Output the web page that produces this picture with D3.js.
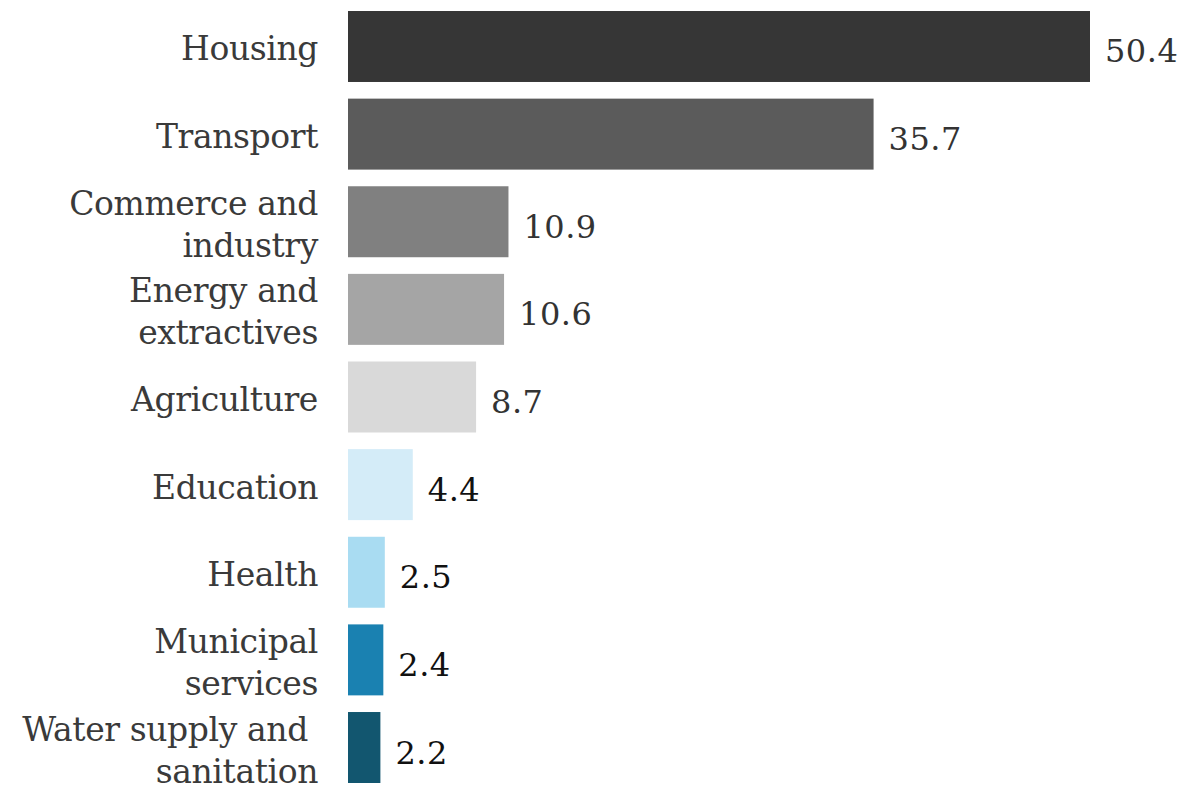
<!DOCTYPE html>
<html>
<head>
<meta charset="utf-8">
<script src="https://cdn.jsdelivr.net/npm/d3@7"></script>
<style>
  body { margin: 0; background: #fff; }
  text { font-family: "DejaVu Serif", "Liberation Serif", serif; }
</style>
</head>
<body>
<div id="chart"></div>
<script>
// sectors, top to bottom (multi-line labels split into lines)
const sectors = ["Housing", "Transport", "Commerce and industry", "Energy and extractives",
  "Agriculture", "Education", "Health", "Municipal services", "Water supply and sanitation"];
const sectorLines = [["Housing"], ["Transport"], ["Commerce and", "industry"], ["Energy and", "extractives"],
  ["Agriculture"], ["Education"], ["Health"], ["Municipal", "services"], ["Water supply and ", "sanitation"]];
const values = [50.4, 35.7, 10.9, 10.6, 8.7, 4.4, 2.5, 2.4, 2.2];

const barColors = ["#363636", "#5b5b5b", "#808080", "#a5a5a5", "#d9d9d9",
  "#d4ecf8", "#a9dcf2", "#1a81b1", "#12566f"];

const width = 1186, height = 790;
const margin = { left: 348, top: 11, bottom: 7 };

const svg = d3.select("#chart").append("svg")
  .attr("width", width)
  .attr("height", height);

const x = d3.scaleLinear().domain([0, 50.4]).range([margin.left, 1090]);
const y = d3.scaleBand().domain(sectors)
  .range([margin.top, height - margin.bottom])
  .paddingInner(0.19)
  .paddingOuter(0);

// bars
svg.selectAll(".bar")
  .data(sectors)
  .enter()
  .append("rect")
  .attr("class", "bar")
  .attr("x", x(0))
  .attr("y", d => y(d))
  .attr("width", (d, i) => x(values[i]) - x(0))
  .attr("height", y.bandwidth())
  .style("fill", (d, i) => barColors[i]);

// value labels
svg.selectAll(".value")
  .data(sectors)
  .enter()
  .append("text")
  .attr("class", "value")
  .attr("x", (d, i) => x(values[i]) + 15)
  .attr("y", d => y(d) + y.bandwidth() / 2 + 5)
  .attr("dominant-baseline", "central")
  .style("font-size", "32px")
  .style("letter-spacing", "0.5px")
  .style("fill", (d, i) => i < 5 ? "#333" : "#111")
  .text((d, i) => values[i].toFixed(1));

// category labels
const lineGap = 42;
const labels = svg.selectAll(".label")
  .data(sectors)
  .enter()
  .append("text")
  .attr("class", "label")
  .attr("text-anchor", "end")
  .attr("dominant-baseline", "central")
  .style("font-size", "33px")
  .style("fill", "#3a3a3a")
  .style("letter-spacing", "-0.4px");

labels.each(function (d, i) {
  const lines = sectorLines[i];
  const cy = y(d) + y.bandwidth() / 2 + 2;
  const start = cy - (lines.length - 1) * lineGap / 2;
  d3.select(this).selectAll("tspan")
    .data(lines)
    .enter()
    .append("tspan")
    .attr("x", 318)
    .attr("y", (l, j) => start + j * lineGap)
    .style("white-space", "pre")
    .text(l => l);
});
</script>
</body>
</html>
